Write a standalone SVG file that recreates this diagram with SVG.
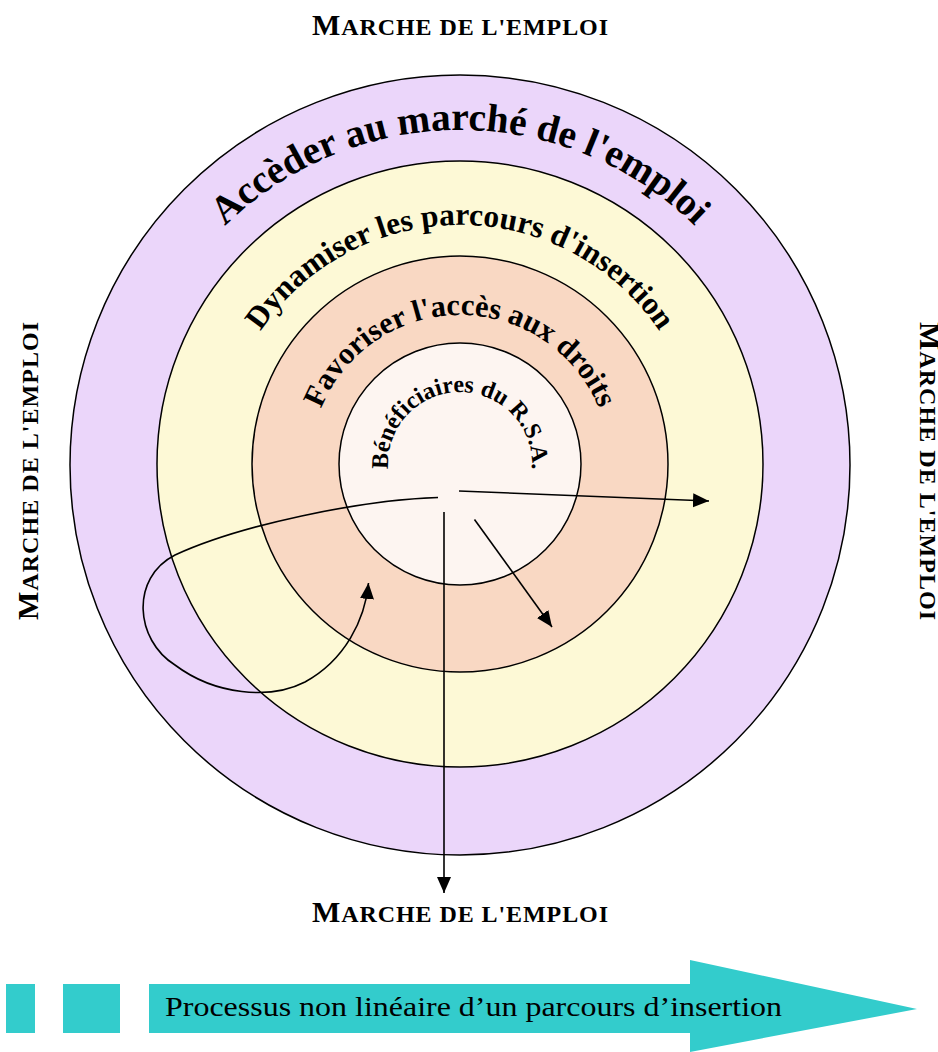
<svg xmlns="http://www.w3.org/2000/svg" xmlns:xlink="http://www.w3.org/1999/xlink" width="938" height="1052" viewBox="0 0 938 1052">
<style>
.ring{stroke:#000;stroke-width:1.5}
.arc{font-family:"Liberation Serif","Times New Roman",serif;font-weight:bold;fill:#000}
.title{font-family:"Liberation Serif","Times New Roman",serif;font-weight:bold;fill:#000}
.conn{fill:none;stroke:#000;stroke-width:1.6}
.band{fill:#33CCCC}
</style>
<defs>
<marker id="ah" markerUnits="userSpaceOnUse" markerWidth="18" markerHeight="16" refX="16" refY="7" orient="auto">
<path d="M0,0 L16,7 L0,14 Z" fill="#000"/>
</marker>
<path id="p1" d="M169.9,632.5 A335,335 0 1 1 750.1,632.5"/>
<path id="p2" d="M252.2,585 A240,240 0 1 1 667.8,585"/>
<path id="p3" d="M330.1,540 A150,150 0 1 1 589.9,540"/>
<path id="p4" d="M397.6,500 A72,72 0 1 1 522.4,500"/>
</defs>
<rect width="938" height="1052" fill="#fff"/>
<g id="ring-outer"><circle class="ring" cx="460" cy="465" r="390" fill="#EBD6FA"/>
<text class="arc" font-size="39.5"><textPath xlink:href="#p1" href="#p1" startOffset="50%" text-anchor="middle">Accèder au marché de l'emploi</textPath></text></g>
<g id="ring-second"><circle class="ring" cx="460" cy="464" r="303" fill="#FDF9D6"/>
<text class="arc" font-size="31.5"><textPath xlink:href="#p2" href="#p2" startOffset="50%" text-anchor="middle">Dynamiser les parcours d'insertion</textPath></text></g>
<g id="ring-third"><circle class="ring" cx="460" cy="464" r="208" fill="#F9D8C3"/>
<text class="arc" font-size="30.5"><textPath xlink:href="#p3" href="#p3" startOffset="50%" text-anchor="middle">Favoriser l'accès aux droits</textPath></text></g>
<g id="ring-inner"><circle class="ring" cx="460" cy="464" r="121" fill="#FDF5F1"/>
<text class="arc" font-size="24"><textPath xlink:href="#p4" href="#p4" startOffset="50%" text-anchor="middle">Bénéficiaires du R.S.A.</textPath></text></g>
<g id="connectors">
<path class="conn" d="M459,491 L709,501" marker-end="url(#ah)"/>
<path class="conn" d="M474.5,519.5 L552,627" marker-end="url(#ah)"/>
<path class="conn" d="M444,512 L444,893" marker-end="url(#ah)"/>
<path class="conn" d="M438,497.5 C360,500 240,525 175,555 C130,578 135,640 175,665 C215,695 270,700 305,682 C345,660 365,620 368.5,583" marker-end="url(#ah)"/>
</g>
<g id="label-top"><text class="title" x="312" y="35" textLength="296" lengthAdjust="spacing"><tspan font-size="30">M</tspan><tspan font-size="24">ARCHE DE L'EMPLOI</tspan></text></g>
<g id="label-bottom"><text class="title" x="312" y="922" textLength="296" lengthAdjust="spacing"><tspan font-size="30">M</tspan><tspan font-size="24">ARCHE DE L'EMPLOI</tspan></text></g>
<g id="label-left"><text class="title" transform="translate(38,620) rotate(-90)" x="0" y="0" textLength="298" lengthAdjust="spacing"><tspan font-size="30">M</tspan><tspan font-size="24">ARCHE DE L'EMPLOI</tspan></text></g>
<g id="label-right"><text class="title" transform="translate(920,322) rotate(90)" x="0" y="0" textLength="298" lengthAdjust="spacing"><tspan font-size="30">M</tspan><tspan font-size="24">ARCHE DE L'EMPLOI</tspan></text></g>
<g id="process-band">
<rect class="band" x="6" y="984" width="29" height="49"/>
<rect class="band" x="63" y="984" width="57" height="49"/>
<path class="band" d="M149,984 L690,984 L690,960 L917,1009 L690,1052 L690,1033 L149,1033 Z"/>
<text x="165" y="1016" font-family="Liberation Serif,'Times New Roman',serif" font-size="28" textLength="617" lengthAdjust="spacingAndGlyphs" fill="#000">Processus non linéaire d’un parcours d’insertion</text>
</g>
</svg>
